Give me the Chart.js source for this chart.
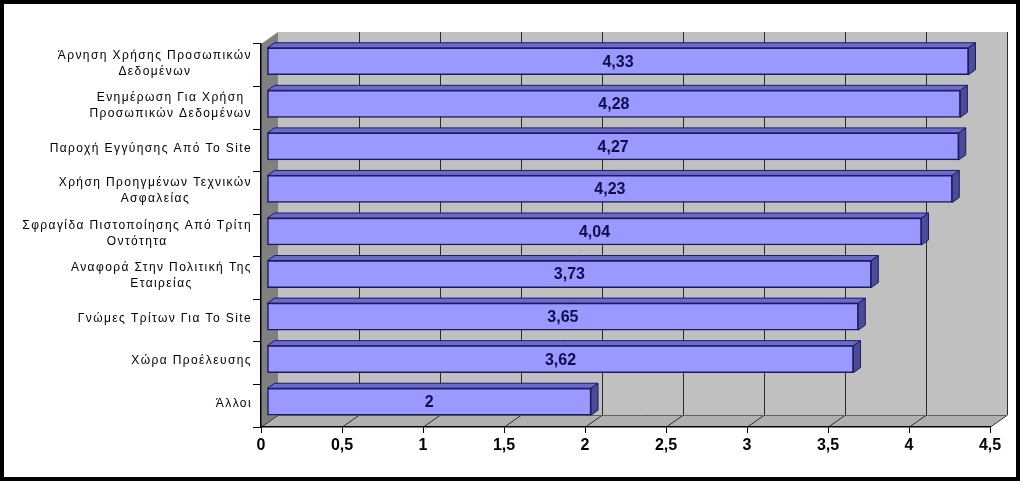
<!DOCTYPE html>
<html>
<head>
<meta charset="utf-8">
<script src="https://cdn.jsdelivr.net/npm/chart.js@4/dist/chart.umd.min.js"></script>
<style>
  html, body { margin: 0; padding: 0; background: #fff; }
  #wrap { width: 1024px; height: 485px; position: relative; }
</style>
</head>
<body>
<div id="wrap"><canvas id="myChart" width="1024" height="485"></canvas></div>
<script>
const categories = [
    ['Άρνηση Χρήσης Προσωπικών', 'Δεδομένων'],
    ['Ενημέρωση Για Χρήση', 'Προσωπικών Δεδομένων'],
    ['Παροχή Εγγύησης Από Το Site'],
    ['Χρήση Προηγμένων Τεχνικών', 'Ασφαλείας'],
    ['Σφραγίδα Πιστοποίησης Από Τρίτη', 'Οντότητα'],
    ['Αναφορά Στην Πολιτική Της', 'Εταιρείας'],
    ['Γνώμες Τρίτων Για Το Site'],
    ['Χώρα Προέλευσης'],
    ['Άλλοι']
];
const values = [4.33, 4.28, 4.27, 4.23, 4.04, 3.73, 3.65, 3.62, 2];
const xTicks = [0, 0.5, 1, 1.5, 2, 2.5, 3, 3.5, 4, 4.5];

// 3D depth of the plot box and of the bars
const DEPTH_X = 17, DEPTH_Y = -12;
const BAR_SHIFT_X = 6, BAR_SHIFT_Y = -4;
const BAR_DX = 7, BAR_DY = -5;

const fmt = v => String(v).replace('.', ',');

const box3d = {
    id: 'box3d',
    beforeDraw(chart) {
        const { ctx, chartArea: a, scales } = chart;
        ctx.save();
        // back wall
        ctx.fillStyle = '#c0c0c0';
        ctx.fillRect(a.left + DEPTH_X, a.top + DEPTH_Y, a.right - a.left, a.bottom - a.top);
        // left wall
        ctx.fillStyle = '#808080';
        ctx.beginPath();
        ctx.moveTo(a.left, a.top);
        ctx.lineTo(a.left + DEPTH_X, a.top + DEPTH_Y);
        ctx.lineTo(a.left + DEPTH_X, a.bottom + DEPTH_Y);
        ctx.lineTo(a.left, a.bottom);
        ctx.closePath();
        ctx.fill();
        // floor
        ctx.fillStyle = '#b0b0b0';
        ctx.beginPath();
        ctx.moveTo(a.left, a.bottom);
        ctx.lineTo(a.left + DEPTH_X, a.bottom + DEPTH_Y);
        ctx.lineTo(a.right + DEPTH_X, a.bottom + DEPTH_Y);
        ctx.lineTo(a.right, a.bottom);
        ctx.closePath();
        ctx.fill();
        // gridlines on back wall and floor
        ctx.strokeStyle = '#2a2a2a';
        ctx.lineWidth = 1;
        xTicks.forEach(v => {
            const px = Math.round(scales.x.getPixelForValue(v)) + 0.5;
            if (v > 0) {
                ctx.beginPath();
                ctx.moveTo(px + DEPTH_X, a.top + DEPTH_Y);
                ctx.lineTo(px + DEPTH_X, a.bottom + DEPTH_Y);
                ctx.stroke();
            }
            ctx.beginPath();
            ctx.moveTo(px, a.bottom);
            ctx.lineTo(px + DEPTH_X, a.bottom + DEPTH_Y);
            ctx.stroke();
        });
        ctx.strokeStyle = '#606060';
        ctx.beginPath();
        ctx.moveTo(a.left + DEPTH_X, a.bottom + DEPTH_Y + 0.5);
        ctx.lineTo(a.right + DEPTH_X, a.bottom + DEPTH_Y + 0.5);
        ctx.stroke();
        ctx.restore();
    },
    beforeDatasetsDraw(chart) {
        chart.ctx.save();
        chart.ctx.translate(BAR_SHIFT_X, BAR_SHIFT_Y);
    },
    afterDatasetsDraw(chart) {
        const ctx = chart.ctx;
        const meta = chart.getDatasetMeta(0);
        meta.data.forEach((bar, i) => {
            const { x, y, base, height } = bar.getProps(['x', 'y', 'base', 'height'], true);
            const top = y - height / 2, bottom = y + height / 2;
            ctx.lineWidth = 1;
            ctx.strokeStyle = '#1a1a5e';
            // top face
            ctx.fillStyle = '#6b6bcc';
            ctx.beginPath();
            ctx.moveTo(base, top);
            ctx.lineTo(base + BAR_DX, top + BAR_DY);
            ctx.lineTo(x + BAR_DX, top + BAR_DY);
            ctx.lineTo(x, top);
            ctx.closePath();
            ctx.fill();
            ctx.stroke();
            // side face
            ctx.fillStyle = '#4b4b99';
            ctx.beginPath();
            ctx.moveTo(x, top);
            ctx.lineTo(x + BAR_DX, top + BAR_DY);
            ctx.lineTo(x + BAR_DX, bottom + BAR_DY);
            ctx.lineTo(x, bottom);
            ctx.closePath();
            ctx.fill();
            ctx.stroke();
            // value label
            ctx.fillStyle = '#0d0d4d';
            ctx.font = 'bold 16px "Liberation Sans", Arial, sans-serif';
            ctx.textAlign = 'center';
            ctx.textBaseline = 'middle';
            ctx.fillText(fmt(values[i]), (base + x) / 2, y + 1);
        });
        ctx.restore();
    },
    afterDraw(chart) {
        const { ctx, scales } = chart;
        ctx.save();
        // category labels: block right aligned, lines centred
        ctx.font = '12px "Liberation Sans", Arial, sans-serif';
        ctx.letterSpacing = '1.4px';
        ctx.fillStyle = '#000';
        ctx.textAlign = 'center';
        ctx.textBaseline = 'middle';
        const rightEdge = 252, lineH = 16;
        categories.forEach((lines, i) => {
            const cy = scales.y.getPixelForTick(i) - 2;
            const w = Math.max(...lines.map(l => ctx.measureText(l).width));
            const cx = rightEdge - w / 2;
            lines.forEach((l, j) => {
                ctx.fillText(l, cx, cy + (j - (lines.length - 1) / 2) * lineH);
            });
        });
        ctx.letterSpacing = '0px';
        // outer frame
        ctx.strokeStyle = '#000';
        ctx.lineWidth = 4;
        ctx.strokeRect(2, 2, 1016, 477);
        ctx.restore();
    }
};

const ctx = document.getElementById('myChart').getContext('2d');
const myChart = new Chart(ctx, {
    type: 'bar',
    data: {
        labels: categories,
        datasets: [{
            data: values,
            backgroundColor: '#9999ff',
            borderColor: '#1a1a5e',
            borderWidth: 1.5,
            borderSkipped: false,
            barThickness: 27
        }]
    },
    options: {
        indexAxis: 'y',
        responsive: false,
        animation: false,
        events: [],
        layout: { padding: { left: 253, top: 44, right: 34, bottom: 0 } },
        scales: {
            x: {
                min: 0,
                max: 4.5,
                afterFit: s => { s.height = 58; },
                afterBuildTicks: s => { s.ticks = xTicks.map(v => ({ value: v })); },
                grid: { drawOnChartArea: false, drawTicks: true, tickLength: 6, color: '#000' },
                border: { display: true, color: '#000', width: 1.5 },
                ticks: {
                    padding: 3,
                    color: '#000',
                    font: { family: '"Liberation Sans Narrow", "Liberation Sans", Arial', size: 16, weight: 'bold' },
                    callback: v => fmt(v)
                }
            },
            y: {
                afterFit: s => { s.width = 8; },
                grid: { drawOnChartArea: false, drawTicks: true, tickLength: 8, color: '#000', offset: true },
                border: { display: true, color: '#000', width: 1.5 },
                ticks: { display: false }
            }
        },
        plugins: {
            legend: { display: false },
            tooltip: { enabled: false }
        }
    },
    plugins: [box3d]
});
</script>
</body>
</html>
